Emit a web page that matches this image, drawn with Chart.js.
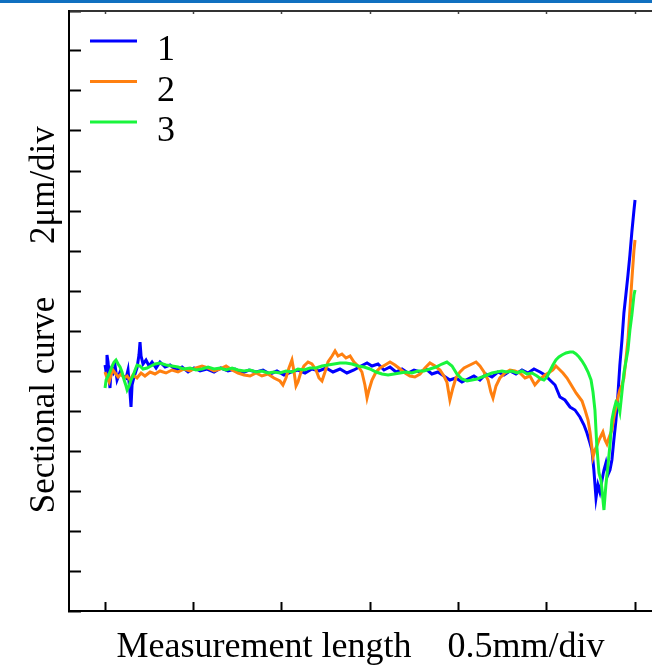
<!DOCTYPE html>
<html lang="en">
<head>
<meta charset="UTF-8">
<title>Sectional curve</title>
<script src="https://cdn.jsdelivr.net/npm/chart.js"></script>
<style>
    body { margin: 0; background: #fff; }
    .wrap { position: relative; width: 652px; height: 670px; }
    .topbar { position: absolute; left: 0; top: 0; width: 652px; height: 3px; background: #1070c0; }
</style>
</head>
<body>
<div class="wrap">
    <canvas id="profile" width="652" height="670"></canvas>
    <div class="topbar"></div>
</div>
<script>
const seriesLabels = ['1', '2', '3'];
const xTicks = [0, 0.5, 1, 1.5, 2, 2.5, 3];
const yTicks = [-12, -10, -8, -6, -4, -2, 0, 2, 4, 6, 8, 10, 12, 14, 16, 18];

const x1 = [0,.006,.011,.017,.023,.028,.034,.045,.057,.068,.085,.102,.119,.130,.141,.147,.153,.164,.181,.192,.198,.204,.215,.232,.249,.266,.289,.311,.340,.368,.402,.436,.470,.504,.538,.577,.617,.656,.696,.736,.775,.815,.855,.894,.934,.973,1.013,1.053,1.092,1.132,1.171,1.211,1.251,1.290,1.330,1.369,1.409,1.449,1.483,1.511,1.545,1.579,1.613,1.647,1.681,1.715,1.749,1.783,1.817,1.850,1.884,1.918,1.952,1.986,2.020,2.054,2.088,2.122,2.156,2.190,2.224,2.258,2.292,2.326,2.360,2.394,2.428,2.462,2.490,2.518,2.547,2.575,2.603,2.632,2.660,2.688,2.711,2.728,2.745,2.756,2.767,2.779,2.790,2.801,2.813,2.824,2.835,2.846,2.858,2.869,2.880,2.892,2.903,2.914,2.926,2.937,2.948,2.960,2.971,2.982,2.994,3.000];
const y1 = [0.30,-0.05,0.80,0.45,-0.35,-0.85,0.05,-0.10,0.25,-0.45,-0.05,-0.25,-0.35,0.05,-1.05,-1.80,-0.70,-0.30,0.15,0.80,1.45,0.75,0.35,0.55,0.25,0.45,0.15,0.45,0.20,0.30,0.05,0.20,-0.05,0.15,0,0.10,-0.05,0.15,0,0.10,-0.10,0.05,-0.05,0.05,-0.15,0,-0.20,-0.05,0.05,-0.10,0.10,0,0.15,-0.05,0.10,-0.10,0.05,0.25,0.40,0.25,0.35,0.05,0.20,-0.05,0.10,-0.10,0.05,-0.05,0.10,-0.15,-0.05,-0.25,-0.45,-0.35,-0.55,-0.40,-0.25,-0.45,-0.15,-0.30,-0.05,-0.20,0,-0.15,0.05,-0.10,0.10,-0.05,-0.20,-0.45,-0.70,-1.30,-1.45,-1.80,-1.95,-2.30,-2.70,-3.10,-3.60,-3.95,-4.95,-6.35,-5.70,-6.05,-5.45,-4.95,-4.60,-5.20,-4.95,-4.45,-3.45,-2.45,-1.20,0.30,1.55,2.90,3.80,4.80,5.80,6.95,8.05,8.55];

const x2 = [0,.011,.023,.034,.045,.057,.074,.091,.108,.125,.141,.158,.181,.204,.226,.255,.283,.311,.345,.379,.413,.447,.481,.515,.549,.583,.617,.651,.685,.719,.753,.787,.821,.855,.888,.922,.956,.990,1.007,1.024,1.041,1.058,1.070,1.081,1.092,1.109,1.126,1.149,1.171,1.194,1.211,1.228,1.245,1.262,1.285,1.302,1.319,1.341,1.364,1.387,1.409,1.432,1.454,1.471,1.483,1.494,1.511,1.534,1.556,1.585,1.613,1.641,1.670,1.698,1.726,1.754,1.783,1.811,1.839,1.868,1.896,1.918,1.935,1.952,1.969,1.986,2.009,2.032,2.054,2.077,2.100,2.122,2.145,2.168,2.184,2.196,2.213,2.235,2.264,2.292,2.320,2.349,2.377,2.405,2.433,2.462,2.490,2.518,2.535,2.552,2.575,2.592,2.615,2.632,2.649,2.666,2.683,2.700,2.717,2.734,2.745,2.762,2.773,2.784,2.796,2.807,2.818,2.830,2.841,2.852,2.869,2.880,2.892,2.903,2.914,2.926,2.937,2.948,2.960,2.971,2.982,2.994,3.000];
const y2 = [-0.05,-0.35,-0.55,-0.20,0.05,-0.10,-0.30,-0.15,-0.35,-0.25,-0.45,-0.20,-0.35,-0.10,-0.25,-0.05,-0.15,0,-0.10,0.05,-0.05,0.10,0,0.15,0.25,0.15,0,0.10,0.25,0.05,-0.10,-0.20,-0.25,-0.10,-0.25,-0.15,-0.35,-0.50,-0.70,-0.35,0.15,0.55,-0.05,-0.75,-0.55,-0.05,0.25,0.45,0.35,0.05,-0.35,-0.50,-0.05,0.45,0.75,1.00,0.75,0.85,0.65,0.75,0.45,0.25,-0.05,-0.70,-1.35,-0.95,-0.45,-0.05,0.15,0.30,0.45,0.30,0.10,-0.10,-0.25,-0.30,-0.15,0.15,0.40,0.25,0.05,-0.25,-0.55,-1.45,-0.85,-0.35,-0.05,0.15,0.25,0.35,0.45,0.25,-0.05,-0.45,-1.05,-1.35,-0.75,-0.35,-0.10,0.05,0,-0.10,-0.35,-0.25,-0.70,-0.40,-0.20,-0.05,0.05,0.25,0.05,-0.10,-0.35,-0.60,-0.85,-1.10,-1.30,-1.50,-1.95,-2.45,-3.05,-4.30,-3.95,-3.75,-3.45,-3.25,-3.05,-3.45,-3.65,-3.35,-2.95,-2.35,-1.80,-1.35,-0.95,-0.70,-0.35,0.55,1.55,3.05,4.55,6.05,6.55];

const x3 = [0,.006,.017,.028,.040,.051,.062,.074,.085,.096,.108,.119,.125,.136,.147,.158,.170,.181,.198,.215,.238,.260,.283,.311,.345,.379,.413,.447,.481,.515,.549,.583,.617,.651,.685,.719,.753,.787,.821,.855,.888,.922,.956,.990,1.024,1.058,1.092,1.126,1.160,1.194,1.228,1.262,1.296,1.330,1.364,1.398,1.432,1.466,1.500,1.534,1.568,1.602,1.636,1.670,1.703,1.737,1.771,1.805,1.839,1.873,1.907,1.935,1.964,1.992,2.020,2.049,2.077,2.105,2.134,2.162,2.190,2.218,2.247,2.275,2.303,2.332,2.360,2.388,2.417,2.445,2.467,2.484,2.501,2.518,2.535,2.552,2.569,2.586,2.609,2.632,2.649,2.666,2.683,2.700,2.717,2.734,2.751,2.762,2.773,2.784,2.796,2.807,2.813,2.824,2.835,2.846,2.858,2.869,2.880,2.892,2.903,2.914,2.926,2.937,2.948,2.960,2.971,2.982,2.994,3.000];
const y3 = [-0.85,-0.45,-0.25,-0.05,0.25,0.45,0.55,0.35,0.20,-0.05,-0.45,-0.75,-0.95,-0.75,-0.45,-0.25,0.05,0.30,0.25,0.10,0.15,0.25,0.35,0.40,0.30,0.25,0.20,0.10,0.15,0.05,0.10,0.20,0.10,0.15,0.05,0.15,0.05,0,0.05,-0.05,0,-0.10,-0.05,-0.10,0,-0.05,0.10,0.05,0.15,0.15,0.25,0.30,0.35,0.40,0.40,0.35,0.25,0.20,0.10,-0.05,-0.15,-0.20,-0.15,-0.10,-0.05,-0.10,0,0,0.10,0.20,0.35,0.45,0.25,-0.15,-0.40,-0.50,-0.45,-0.40,-0.30,-0.20,-0.10,-0.05,0,-0.05,0,-0.10,0,-0.15,-0.10,-0.25,-0.40,-0.45,-0.30,0,0.30,0.55,0.70,0.80,0.90,0.95,0.95,0.85,0.70,0.50,0.25,-0.05,-0.45,-1.05,-1.95,-3.80,-5.10,-5.45,-5.95,-6.95,-5.70,-4.80,-3.70,-2.45,-1.95,-1.55,-1.65,-2.05,-1.05,-0.10,0.45,1.05,2.05,2.80,3.80,4.05];

const seriesColors = ['#0000ff', '#ff8010', '#19f53c'];

const toPoints = (xs, ys) => xs.map((x, i) => ({ x: x, y: ys[i] }));

const serifFont = '"Liberation Serif", "Times New Roman", serif';

// legend drawn inside the plot, top left
const insideLegend = {
    id: 'insideLegend',
    afterDatasetsDraw(chart) {
        const ctx = chart.ctx;
        ctx.save();
        seriesLabels.forEach((label, i) => {
            const y = 41 + i * 40.5;
            ctx.strokeStyle = seriesColors[i];
            ctx.lineWidth = 3;
            ctx.beginPath();
            ctx.moveTo(90, y);
            ctx.lineTo(137, y);
            ctx.stroke();
            ctx.fillStyle = '#000';
            ctx.font = '36px ' + serifFont;
            ctx.textBaseline = 'alphabetic';
            ctx.fillText(label, 157, y + 19);
        });
        ctx.restore();
    }
};

const setTicks = list => scale => { scale.ticks = list.map(v => ({ value: v })); };

const ctx = document.getElementById('profile').getContext('2d');
new Chart(ctx, {
    type: 'line',
    data: {
        datasets: [
            { label: seriesLabels[0], data: toPoints(x1, y1), borderColor: seriesColors[0], order: 2 },
            { label: seriesLabels[1], data: toPoints(x2, y2), borderColor: seriesColors[1], order: 1 },
            { label: seriesLabels[2], data: toPoints(x3, y3), borderColor: seriesColors[2], order: 0 }
        ]
    },
    options: {
        responsive: false,
        animation: false,
        layout: { padding: 0 },
        elements: {
            point: { radius: 0 },
            line: { borderWidth: 3, tension: 0 }
        },
        plugins: {
            legend: { display: false },
            tooltip: { enabled: false }
        },
        scales: {
            x: {
                type: 'linear',
                position: 'bottom',
                min: -0.204,
                max: 3.096,
                afterBuildTicks: setTicks(xTicks),
                afterFit: s => { s.height = 59; },
                ticks: { display: false },
                grid: { drawOnChartArea: false, drawTicks: true, tickLength: -9, tickWidth: 2, tickColor: '#000' },
                border: { display: true, color: '#000', width: 2 },
                title: {
                    display: true,
                    text: 'Measurement length    0.5mm/div',
                    color: '#000',
                    font: { family: serifFont, size: 36, lineHeight: 1.2 },
                    padding: { top: 0, bottom: 1 }
                }
            },
            xTop: {
                type: 'linear',
                position: 'top',
                min: -0.204,
                max: 3.096,
                afterBuildTicks: setTicks(xTicks),
                afterFit: s => { s.height = 11; },
                ticks: { display: false },
                grid: { drawOnChartArea: false, drawTicks: true, tickLength: -3, tickWidth: 1.5, tickColor: '#444' },
                border: { display: true, color: '#333', width: 2 }
            },
            y: {
                type: 'linear',
                position: 'left',
                min: -12,
                max: 18,
                afterBuildTicks: setTicks(yTicks),
                afterFit: s => { s.width = 69; },
                ticks: { display: false },
                grid: { drawOnChartArea: false, drawTicks: true, tickLength: -12, tickWidth: 2, tickColor: '#000' },
                border: { display: true, color: '#000', width: 2 },
                title: {
                    display: true,
                    text: 'Sectional curve      2\u03bcm/div  ',
                    color: '#000',
                    font: { family: serifFont, size: 35, lineHeight: 1.2 },
                    padding: { top: 24, bottom: 0 }
                }
            }
        }
    },
    plugins: [insideLegend]
});
</script>
</body>
</html>
